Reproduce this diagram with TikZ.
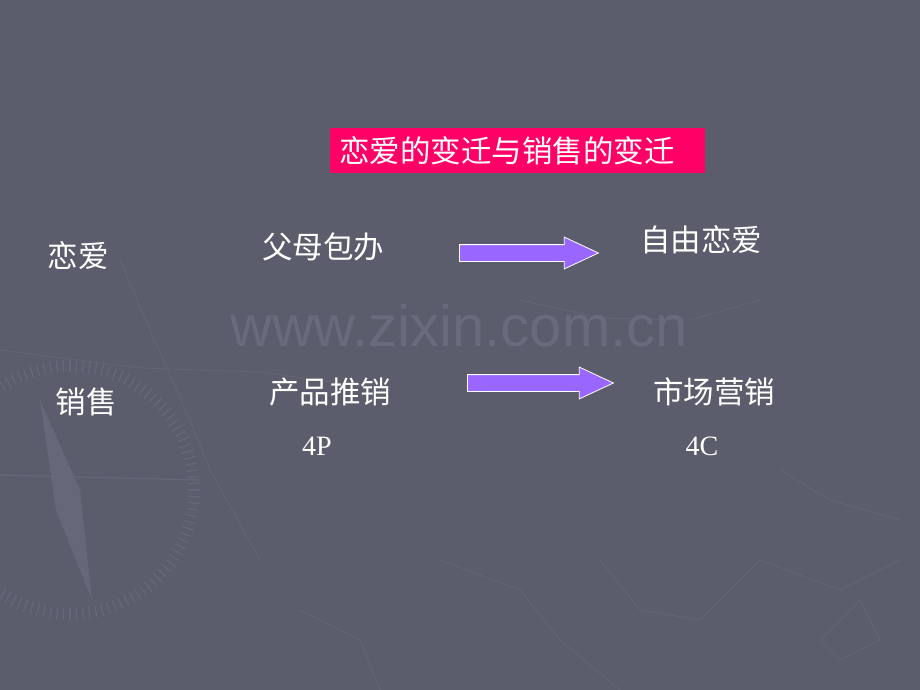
\documentclass[tikz,border=0pt]{standalone}
\usepackage{fontspec}
\setmainfont{Liberation Serif}
\newfontfamily\cjk{Noto Sans CJK SC}
\newfontfamily\wmfont{Liberation Sans}
\usetikzlibrary{shapes.arrows}
\definecolor{slidebg}{HTML}{5B5D6C}
\definecolor{faintline}{HTML}{686B7B}
\definecolor{titlepink}{HTML}{FF0066}
\definecolor{arrowfill}{HTML}{9966FF}
\tikzset{
  label/.style={text=white, font=\cjk\fontsize{30.5}{32}\selectfont, inner sep=0pt},
  code/.style={text=white, font=\fontsize{28}{30}\selectfont, inner sep=0pt},
  titlebox/.style={fill=titlepink, text=white, font=\cjk\fontsize{30.5}{32}\selectfont,
    minimum width=375pt, minimum height=45pt, text width=357pt, inner xsep=9pt, align=left},
  bigarrow/.style={single arrow, fill=arrowfill, draw=white, line width=0.8pt,
    inner sep=0pt, text height=0pt, text depth=0pt, inner ysep=8pt,
    single arrow head extend=7.5pt, single arrow tip angle=50,
    shape border uses incircle=false, anchor=tail},
}
\begin{document}
\begin{tikzpicture}[x=1pt,y=-1pt]
  % background
  \fill[slidebg] (0,0) rectangle (920,690);
  \useasboundingbox (0,0) rectangle (920,690);
  \begin{scope}[draw=faintline, line width=0.7pt, opacity=0.7]
    \draw (0,350) -- (140,368) -- (260,372) -- (390,390);
    \draw (120,260) -- (150,330) -- (190,420) -- (210,470) -- (260,560);
    \draw (600,560) -- (640,610) -- (700,620) -- (760,560) -- (840,590) -- (900,560);
    \draw (780,470) -- (830,500) -- (900,520);
    \draw (440,560) -- (520,590) -- (560,640) -- (620,690);
    \draw (820,640) -- (860,600) -- (880,640) -- (840,660) -- cycle;
    \draw (520,300) -- (600,318) -- (690,320) -- (760,300);
    \draw (300,610) -- (360,640) -- (380,690);
  \end{scope}
  % compass
  \begin{scope}[draw=faintline, line width=1.2pt, opacity=0.8]
    \foreach \a in {0,3,...,357}
      \draw (70,490) ++(\a:118) -- ++(\a:12);
    \fill[faintline, opacity=0.8] (40,400) -- (80,490) -- (92,600) -- (56,510) -- cycle;
    \draw (0,475) -- (200,480);
  \end{scope}
  % watermark
  \node[text=faintline, font=\wmfont\fontsize{58}{60}\selectfont, inner sep=0pt] (wm) at (459,326) {www.zixin.com.cn};
  % title
  \node[titlebox] (title) at (517.5,150.5) {恋爱的变迁与销售的变迁};
  % rows
  \node[label] (love) at (78,256) {恋爱};
  \node[label] (old1) at (323,247) {父母包办};
  \node[label] (new1) at (701,240) {自由恋爱};
  \node[label] (sale) at (86,402) {销售};
  \node[label] (old2) at (330,392) {产品推销};
  \node[label] (new2) at (714,392) {市场营销};
  \node[code] (fourp) at (317,446) {4P};
  \node[code] (fourc) at (702,446) {4C};
  % arrows
  \node[bigarrow, minimum height=139pt, minimum width=31pt] (arrow1) at (459,253) {};
  \node[bigarrow, minimum height=146pt, minimum width=30pt] (arrow2) at (467,383) {};
\end{tikzpicture}
\end{document}
